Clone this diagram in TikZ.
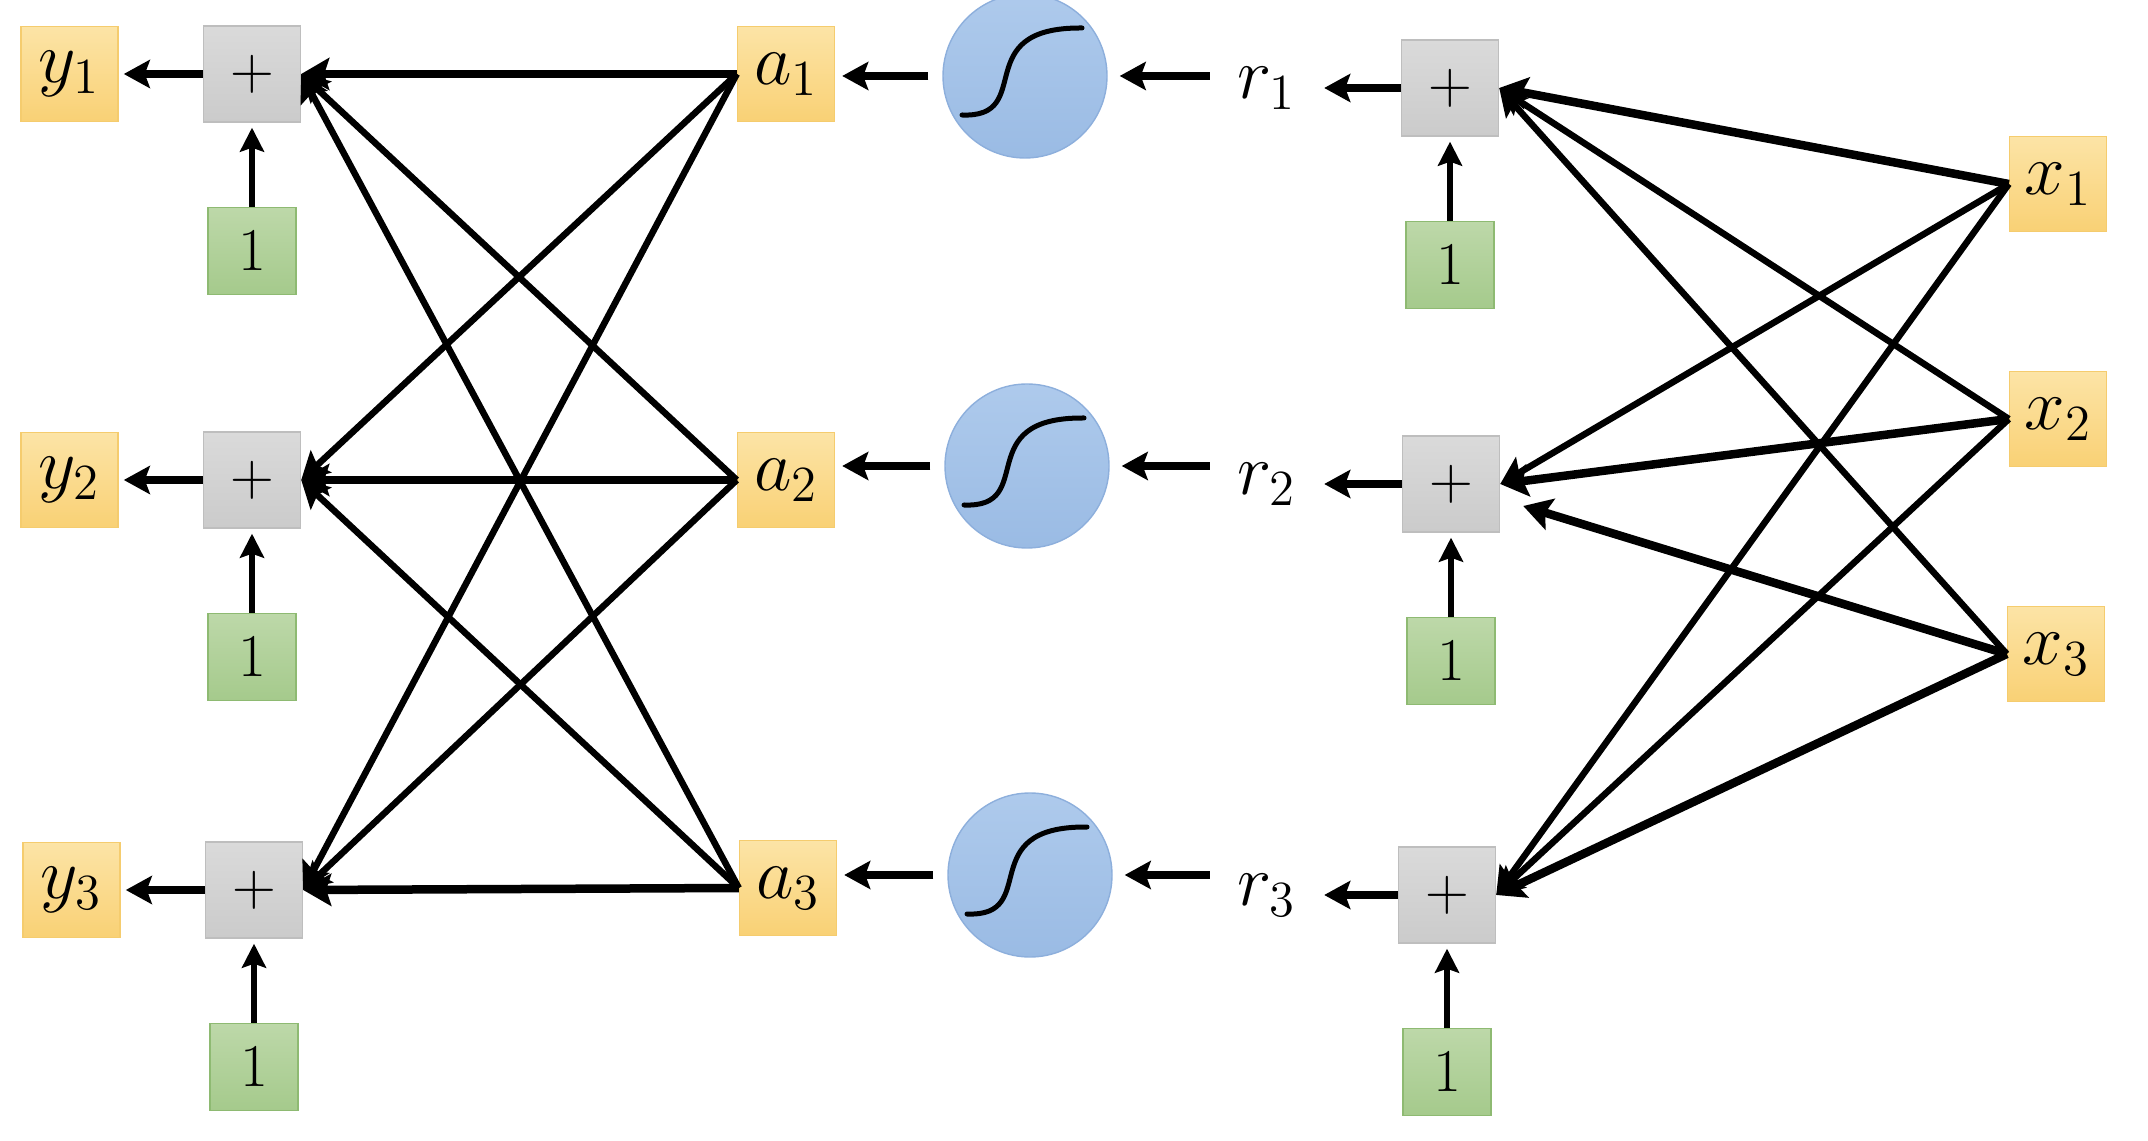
\documentclass[tikz,border=0pt]{standalone}
\usetikzlibrary{positioning}
\usetikzlibrary{arrows.meta}

\definecolor{yeltop}{HTML}{FCE4A6}
\definecolor{yelbot}{HTML}{F9D175}
\definecolor{yelline}{HTML}{F5CC6E}
\definecolor{grytop}{HTML}{DADADA}
\definecolor{grybot}{HTML}{CBCBCB}
\definecolor{gryline}{HTML}{BEBEBE}
\definecolor{grntop}{HTML}{BDD8A9}
\definecolor{grnbot}{HTML}{A5CA8C}
\definecolor{grnline}{HTML}{8EBA72}
\definecolor{blutop}{HTML}{AECAEC}
\definecolor{blubot}{HTML}{9ABBE4}
\definecolor{bluline}{HTML}{8DAFDC}

\begin{document}
\begin{tikzpicture}[
		yel/.style = {rectangle, draw = yelline, top color = yeltop, bottom color = yelbot, minimum width = .97cm, minimum height = .95cm, inner sep = 0pt, font = \huge},
		gry/.style = {rectangle, draw = gryline, top color = grytop, bottom color = grybot, minimum width = .97cm, minimum height = .96cm, inner sep = 0pt, font = \LARGE},
		grn/.style = {rectangle, draw = grnline, top color = grntop, bottom color = grnbot, minimum width = .88cm, minimum height = .87cm, inner sep = 0pt, font = \LARGE},
		sig/.style = {circle, draw = bluline, top color = blutop, bottom color = blubot, minimum size = 1.64cm, inner sep = 0pt},
		lbl/.style = {inner sep = 0pt, minimum width = 1.13cm, font = \huge},
		arr/.style = {-{Stealth[length = .26cm, width = .28cm, inset = .05cm]}, line width = .08cm},
		up/.style = {-{Stealth[length = .24cm, width = .24cm, inset = .04cm]}, line width = .055cm},
		wire/.style = {-{Stealth[length = .27cm, width = .30cm, inset = .05cm]}, line width = .065cm},
		wirebold/.style = {-{Stealth[length = .28cm, width = .32cm, inset = .05cm]}, line width = .085cm},
		curve/.style = {line width = .05cm, line cap = round}
	]
		\useasboundingbox (0,0) rectangle (21.48,11.40);
		
		\node[gry] (P1) at (2.52,10.66) {+};
		\node[gry] (P2) at (2.52,6.60) {+};
		\node[gry] (P3) at (2.54,2.50) {+};
		
		\node[yel, left = .84cm of P1] (Y1) {$y_1$};
		\node[yel, left = .84cm of P2] (Y2) {$y_2$};
		\node[yel, left = .84cm of P3] (Y3) {$y_3$};
		
		\node[grn, below = .84cm of P1] (B1) {1};
		\node[grn, below = .84cm of P2] (B2) {1};
		\node[grn, below = .84cm of P3] (B3) {1};
		
		\node[yel] (A1) at (7.86,10.66) {$a_1$};
		\node[yel] (A2) at (7.86,6.60) {$a_2$};
		\node[yel] (A3) at (7.88,2.52) {$a_3$};
		
		\node[sig] (S1) at (10.25,10.64) {};
		\node[sig] (S2) at (10.27,6.74) {};
		\node[sig] (S3) at (10.30,2.65) {};
		
		\node[gry] (Q1) at (14.50,10.52) {+};
		\node[gry] (Q2) at (14.51,6.56) {+};
		\node[gry] (Q3) at (14.47,2.45) {+};
		
		\node[lbl] (R1) at (12.67,10.52) {$r_1$};
		\node[lbl] (R2) at (12.67,6.56) {$r_2$};
		\node[lbl] (R3) at (12.67,2.45) {$r_3$};
		
		\node[grn, below = .84cm of Q1] (C1) {1};
		\node[grn, below = .84cm of Q2] (C2) {1};
		\node[grn, below = .84cm of Q3] (C3) {1};
		
		\node[yel] (X1) at (20.58,9.56) {$x_1$};
		\node[yel] (X2) at (20.58,7.21) {$x_2$};
		\node[yel] (X3) at (20.56,4.86) {$x_3$};
		
		% sigmoid curves
		\draw[curve] ([shift = {(-.63,-.39)}]S1.center) .. controls ([shift = {(.12,-.42)}]S1.center) and ([shift = {(-.58,.49)}]S1.center) .. ([shift = {(.57,.48)}]S1.center);
		\draw[curve] ([shift = {(-.63,-.39)}]S2.center) .. controls ([shift = {(.12,-.42)}]S2.center) and ([shift = {(-.58,.49)}]S2.center) .. ([shift = {(.57,.48)}]S2.center);
		\draw[curve] ([shift = {(-.63,-.39)}]S3.center) .. controls ([shift = {(.12,-.42)}]S3.center) and ([shift = {(-.58,.49)}]S3.center) .. ([shift = {(.57,.48)}]S3.center);
		
		\draw[arr, shorten > = .05cm] (P1) -- (Y1);
		\draw[arr, shorten > = .05cm] (P2) -- (Y2);
		\draw[arr, shorten > = .05cm] (P3) -- (Y3);
		
		\draw[up, shorten > = .05cm] (B1) -- (P1);
		\draw[up, shorten > = .05cm] (B2) -- (P2);
		\draw[up, shorten > = .05cm] (B3) -- (P3);
		\draw[up, shorten > = .05cm] (C1) -- (Q1);
		\draw[up, shorten > = .05cm] (C2) -- (Q2);
		\draw[up, shorten > = .05cm] (C3) -- (Q3);
		
		\draw[arr, shorten < = .14cm, shorten > = .07cm] (S1.west) -- (S1.west -| A1.east);
		\draw[arr, shorten < = .14cm, shorten > = .07cm] (S2.west) -- (S2.west -| A2.east);
		\draw[arr, shorten < = .14cm, shorten > = .07cm] (S3.west) -- (S3.west -| A3.east);
		
		\draw[arr, shorten > = .12cm] (R1.west |- S1.east) -- (S1.east);
		\draw[arr, shorten > = .12cm] (R2.west |- S2.east) -- (S2.east);
		\draw[arr, shorten > = .12cm] (R3.west |- S3.east) -- (S3.east);
		
		\draw[arr] (Q1.west) -- (R1.east);
		\draw[arr] (Q2.west) -- (R2.east);
		\draw[arr] (Q3.west) -- (R3.east);
		
		% hidden to output
		\path[wirebold] (A1.west) edge (P1.east);
		\path[wire] (A1.west) edge (P2.east);
		\path[wire] (A1.west) edge (P3.east);
		\path[wire] (A2.west) edge (P1.east);
		\path[wirebold] (A2.west) edge (P2.east);
		\path[wire] (A2.west) edge (P3.east);
		\path[wire] (A3.west) edge (P1.east);
		\path[wire] (A3.west) edge (P2.east);
		\path[wirebold] (A3.west) edge (P3.east);
		
		% input to hidden
		\path[wirebold] (X1.west) edge (Q1.east);
		\path[wire] (X1.west) edge (Q2.east);
		\path[wire] (X1.west) edge (Q3.east);
		\path[wire] (X2.west) edge (Q1.east);
		\path[wirebold] (X2.west) edge (Q2.east);
		\path[wire] (X2.west) edge (Q3.east);
		\path[wire] (X3.west) edge (Q1.east);
		\path[wirebold] (X3.west) edge ([xshift = .23cm, yshift = -.22cm]Q2.east);
		\path[wirebold] (X3.west) edge (Q3.east);
	\end{tikzpicture}
\end{document}
